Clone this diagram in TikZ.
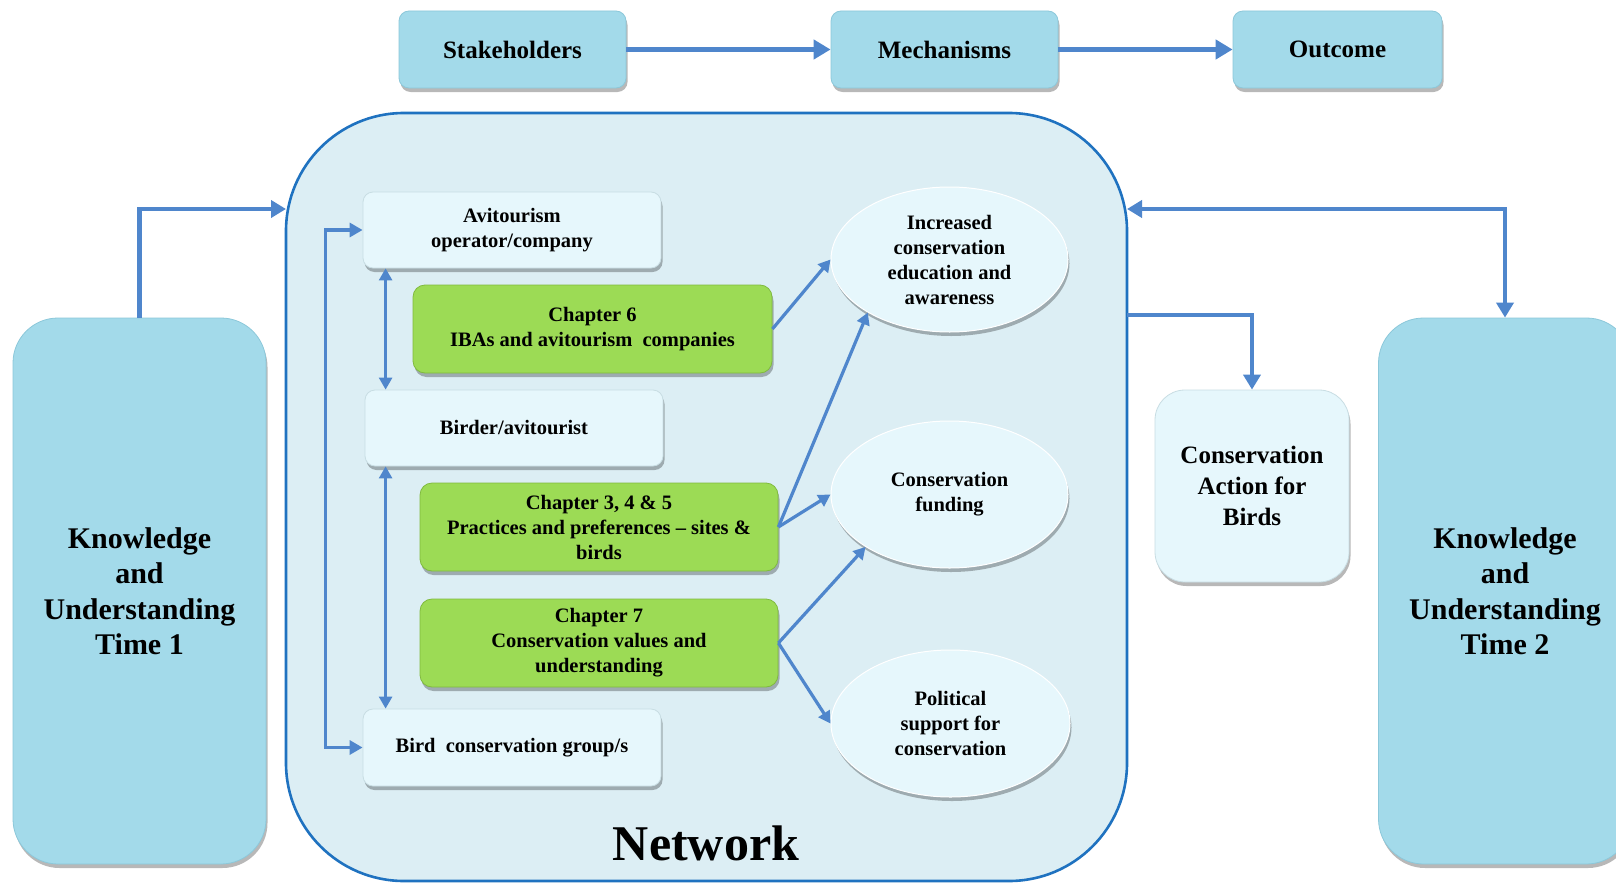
\documentclass[tikz,border=0pt]{standalone}
\usepackage{fontspec}
\setmainfont{Liberation Serif}
\usetikzlibrary{arrows.meta,shapes.geometric,shadows}
\definecolor{kublue}{HTML}{A3DAEA}
\definecolor{kuline}{HTML}{8CC8DA}
\definecolor{netfill}{HTML}{DCEEF4}
\definecolor{netline}{HTML}{1F72C0}
\definecolor{lightbox}{HTML}{E6F7FC}
\definecolor{lightline}{HTML}{C8DDE3}
\definecolor{greenbox}{HTML}{9CDB55}
\definecolor{greenline}{HTML}{80BA3E}
\definecolor{arrowblue}{HTML}{4F86CC}
\begin{document}
\begin{tikzpicture}[x=1pt,y=-1pt,
  every node/.style={align=center, inner sep=0pt},
  intip/.tip={Triangle[length=12pt,width=13pt]},
  midtip/.tip={Triangle[length=13pt,width=14pt]},
  fbtip/.tip={Triangle[length=15pt,width=17pt]},
  shad/.style={drop shadow={shadow xshift=1.5pt,shadow yshift=-4pt,fill=black,opacity=0.28}},
  smalltext/.style={font=\fontsize{20.5}{25}\selectfont\bfseries},
  topbox/.style={draw=kuline, line width=0.8pt, fill=kublue, rounded corners=10pt, shad,
    font=\fontsize{25}{30}\selectfont\bfseries, minimum height=77pt},
  kubox/.style={draw=kuline, line width=0.8pt, fill=kublue, rounded corners=45pt, shad,
    font=\fontsize{30}{35.5}\selectfont\bfseries, minimum width=253pt, minimum height=546pt},
  stakebox/.style={draw=lightline, line width=0.8pt, fill=lightbox, rounded corners=10pt, shad,
    smalltext, minimum width=298pt, minimum height=76pt},
  chapbox/.style={draw=greenline, line width=0.8pt, fill=greenbox, rounded corners=12pt, shad,
    smalltext, minimum width=358pt, minimum height=88pt},
  outell/.style={ellipse, draw=white, line width=1pt, fill=lightbox, shad, smalltext,
    minimum width=237pt, minimum height=146pt},
  actbox/.style={draw=lightline, line width=0.8pt, fill=lightbox, rounded corners=30pt, shad,
    font=\fontsize{25}{31}\selectfont\bfseries, minimum width=194pt, minimum height=192pt},
  bigarr/.style={draw=arrowblue, line width=5pt, -{Triangle[length=17pt,width=19pt]}},
  fbarr/.style={draw=arrowblue, line width=4.5pt},
  inarr/.style={draw=arrowblue, line width=3.2pt}
]
\path[use as bounding box] (0,0) rectangle (1616,883);
\clip (0,0) rectangle (1616,883);
\fill[white] (0,0) rectangle (1616,883);

% network container
\node[draw=netline, line width=2.6pt, fill=netfill, rounded corners=118pt,
  minimum width=841pt, minimum height=768pt] (net) at (706.5,497) {};
\node[font=\fontsize{50}{55}\selectfont\bfseries] (netlabel) at (706,843) {Network};

% top row
\node[topbox, minimum width=227pt] (stake) at (512.5,49.5) {Stakeholders};
\node[topbox, minimum width=227pt] (mech) at (944.5,49.5) {Mechanisms};
\node[topbox, minimum width=209pt] (outc) at (1337.5,49.5) {Outcome};
\draw[bigarr] (stake.east) -- (mech.west);
\draw[bigarr] (mech.east) -- (outc.west);

% knowledge boxes
\node[kubox] (ku1) at (139.5,591) {Knowledge\\and\\Understanding\\Time 1};
\node[kubox] (ku2) at (1505,591) {Knowledge\\and\\Understanding\\Time 2};

% stakeholders inside network
\node[stakebox] (avi) at (512,230) {Avitourism\\operator/company};
\node[stakebox] (bird) at (514,428) {Birder/avitourist};
\node[stakebox, minimum height=77pt] (bcg) at (512,747.5) {Bird\ \ conservation group/s};

% chapters
\node[chapbox, minimum width=359pt] (ch6) at (592.5,329) {Chapter 6\\IBAs and avitourism\ \ companies};
\node[chapbox] (ch345) at (599,527) {Chapter 3, 4 \& 5\\Practices and preferences -- sites \&\\birds};
\node[chapbox] (ch7) at (599,643) {Chapter 7\\Conservation values and\\understanding};

% outcomes (ellipses)
\node[outell, minimum height=145pt] (inc) at (949.5,259.5) {Increased\\conservation\\education and\\awareness};
\node[outell, minimum height=147pt] (fund) at (949.5,494.5) {Conservation\\funding};
\node[outell, minimum width=239pt, minimum height=147pt] (pol) at (950.5,723.5) {Political\\support for\\conservation};

% conservation action
\node[actbox] (act) at (1252,486) {Conservation\\Action for\\Birds};

% feedback connectors
\coordinate (nl) at (286,209);
\coordinate (nr) at (1127,209);
\coordinate (na) at (1127,315);
\draw[fbarr, -{fbtip}] (ku1.north) |- (nl);
\draw[fbarr, {fbtip}-{fbtip}] (nr) -| (ku2.north);
\draw[fbarr, -{fbtip}] (na) -| (act.north);

% inner connectors
\draw[inarr, {midtip}-{midtip}] (avi.west) -- ++(-37,0) |- (bcg.west);
\draw[inarr, line width=2.6pt, {intip}-{intip}]
  ([xshift=23pt]avi.south west) -- ([xshift=21pt]bird.north west);
\draw[inarr, line width=2.6pt, {intip}-{intip}]
  ([xshift=21pt]bird.south west) -- ([xshift=23pt]bcg.north west);

% chapter to outcome
\draw[inarr, -{intip}] (ch6.east) -- (inc.west);
\draw[inarr, -{intip}] (ch345.east) -- (inc.213);
\draw[inarr, -{intip}] (ch345.east) -- (fund.west);
\draw[inarr, -{intip}] (ch7.east) -- (fund.212);
\draw[inarr, -{intip}] (ch7.east) -- (pol.west);
\end{tikzpicture}
\end{document}
